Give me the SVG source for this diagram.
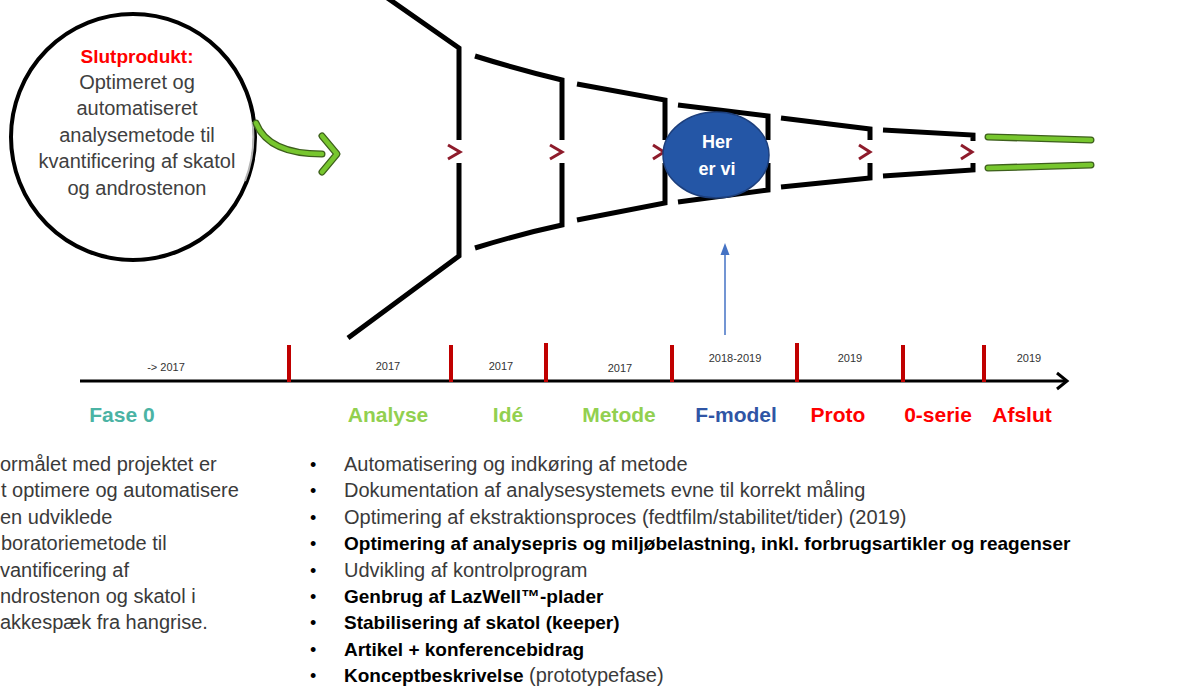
<svg xmlns="http://www.w3.org/2000/svg" width="1193" height="686" viewBox="0 0 1193 686">
<defs>
<style>
.fun{fill:none;stroke:#000;stroke-width:5;stroke-linecap:butt;stroke-linejoin:miter}
.chev{fill:none;stroke:#8e1b2b;stroke-width:3}
.tick{stroke:#c00000;stroke-width:4}
.yr{font-family:"Liberation Sans",Arial,sans-serif;font-size:11px;fill:#333;text-anchor:middle}
.ph{font-family:"Liberation Sans",Arial,sans-serif;font-size:21px;font-weight:bold;text-anchor:middle}
.ct{font-family:"Liberation Sans",Arial,sans-serif;font-size:20px;fill:#404040;text-anchor:middle}
.bt{font-family:"Liberation Sans",Arial,sans-serif;font-size:20px;fill:#3a3a3a}
.bb{font-family:"Liberation Sans",Arial,sans-serif;font-size:19px;fill:#000;font-weight:bold}
.gout{fill:none;stroke:#3d5f1c;stroke-width:7;stroke-linecap:round}
.gin{fill:none;stroke:#77c62e;stroke-width:4.5;stroke-linecap:round}
</style>
</defs>
<rect width="1193" height="686" fill="#fff"/>

<g id="slutprodukt">
<ellipse cx="133" cy="137" rx="122" ry="123" fill="#fff" stroke="#000" stroke-width="4"/>
<path d="M252.5 122 A120 121 0 0 1 245 181" fill="none" stroke="#b5b5b5" stroke-width="2"/>
<text x="137" y="63" class="ct" style="fill:#ff0000;font-weight:bold;font-size:19px">Slutprodukt:</text>
<text x="137" y="89" class="ct">Optimeret og</text>
<text x="137" y="115" class="ct">automatiseret</text>
<text x="137" y="142" class="ct">analysemetode til</text>
<text x="137" y="168" class="ct">kvantificering af skatol</text>
<text x="137" y="195" class="ct">og androstenon</text>
</g>

<g id="connectors">
<path class="gout" d="M256 123 Q268 154 322 154"/>
<path class="gout" d="M322 136 L337 154 L322 172" style="stroke-linejoin:round"/>
<path class="gin" d="M256 123 Q268 154 322 154"/>
<path class="gin" d="M322 136 L337 154 L322 172" style="stroke-linejoin:round"/>
<line x1="725" y1="335" x2="725" y2="254" stroke="#4472c4" stroke-width="1.5"/>
<path d="M725 243 L729.5 255 L720.5 255 Z" fill="#4472c4"/>
</g>

<g id="funnel">
<path class="fun" d="M376 -10 L459 48 L459 140"/>
<path class="fun" d="M459 163 L459 256 L348 338"/>
<path class="fun" d="M475 56 Q520 70 562 80 L562 140"/>
<path class="fun" d="M562 163 L562 225 Q520 234 475 248"/>
<path class="fun" d="M577 84 L665 100 L665 140"/>
<path class="fun" d="M665 163 L665 203 L577 220"/>
<path class="fun" d="M678 105 L768 116 L768 140"/>
<path class="fun" d="M768 163 L768 190 L678 202"/>
<path class="fun" d="M781 118 L870 129 L870 140"/>
<path class="fun" d="M870 163 L870 178 L781 187"/>
<path class="fun" d="M883 130 L973 135 L973 141"/>
<path class="fun" d="M973 163 L973 170 L883 176"/>
<path class="gout" d="M988 137 L1091 140"/>
<path class="gout" d="M988 168 L1091 165"/>
<path class="gin" d="M988 137 L1091 140"/>
<path class="gin" d="M988 168 L1091 165"/>
<polyline class="chev" points="448,145 460,152 448,159"/>
<polyline class="chev" points="550,145 562,152 550,159"/>
<polyline class="chev" points="653,145 664,152 653,159"/>
<polyline class="chev" points="859,145 870,152 859,159"/>
<polyline class="chev" points="961,145 972,152 961,159"/>
</g>

<g id="her-er-vi">
<ellipse cx="716" cy="155" rx="53" ry="43" fill="#2456a6" stroke="#1d3f7c" stroke-width="1.5"/>
<text x="717" y="148" text-anchor="middle" font-family="Liberation Sans, Arial, sans-serif" font-size="18" font-weight="bold" fill="#fff">Her</text>
<text x="717" y="175" text-anchor="middle" font-family="Liberation Sans, Arial, sans-serif" font-size="18" font-weight="bold" fill="#fff">er vi</text>
</g>

<g id="timeline">
<line x1="80" y1="381" x2="1066" y2="381" stroke="#000" stroke-width="3"/>
<polyline points="1057,373 1067,381 1057,389" fill="none" stroke="#000" stroke-width="3"/>
<line class="tick" x1="289" y1="345" x2="289" y2="382"/>
<line class="tick" x1="451" y1="345" x2="451" y2="382"/>
<line class="tick" x1="546" y1="343" x2="546" y2="382"/>
<line class="tick" x1="672" y1="345" x2="672" y2="382"/>
<line class="tick" x1="797" y1="343" x2="797" y2="382"/>
<line class="tick" x1="903" y1="345" x2="903" y2="382"/>
<line class="tick" x1="984" y1="345" x2="984" y2="382"/>
<text class="yr" x="166" y="371">-&gt; 2017</text>
<text class="yr" x="388" y="370">2017</text>
<text class="yr" x="501" y="370">2017</text>
<text class="yr" x="620" y="372">2017</text>
<text class="yr" x="735" y="362">2018-2019</text>
<text class="yr" x="850" y="362">2019</text>
<text class="yr" x="1029" y="362">2019</text>
</g>

<g id="phases">
<text class="ph" x="122" y="422" fill="#4bb3a4">Fase 0</text>
<text class="ph" x="388" y="422" fill="#92d050">Analyse</text>
<text class="ph" x="508" y="422" fill="#92d050">Idé</text>
<text class="ph" x="619" y="422" fill="#92d050">Metode</text>
<text class="ph" x="736" y="422" fill="#2f55a5">F-model</text>
<text class="ph" x="838" y="422" fill="#ff0000">Proto</text>
<text class="ph" x="938" y="422" fill="#ff0000">0-serie</text>
<text class="ph" x="1022" y="422" fill="#ff0000">Afslut</text>
</g>

<g id="formaal">
<text class="bt" x="0" y="471">ormålet med projektet er</text>
<text class="bt" x="1" y="497">t optimere og automatisere</text>
<text class="bt" x="0" y="524">en udviklede</text>
<text class="bt" x="1" y="550">boratoriemetode til</text>
<text class="bt" x="0" y="577">vantificering af</text>
<text class="bt" x="0" y="603">ndrostenon og skatol i</text>
<text class="bt" x="0" y="629">akkespæk fra hangrise.</text>
</g>

<g id="bullets">
<g font-family="Liberation Sans, Arial, sans-serif" font-size="18" fill="#000">
<text x="310" y="471">•</text><text x="310" y="497">•</text><text x="310" y="524">•</text>
<text x="310" y="550">•</text><text x="310" y="577">•</text><text x="310" y="603">•</text>
<text x="310" y="629">•</text><text x="310" y="656">•</text><text x="310" y="682">•</text>
</g>
<text class="bt" x="344" y="471">Automatisering og indkøring af metode</text>
<text class="bt" x="344" y="497">Dokumentation af analysesystemets evne til korrekt måling</text>
<text class="bt" x="344" y="524">Optimering af ekstraktionsproces (fedtfilm/stabilitet/tider) (2019)</text>
<text class="bb" x="344" y="550">Optimering af analysepris og miljøbelastning, inkl. forbrugsartikler og reagenser</text>
<text class="bt" x="344" y="577">Udvikling af kontrolprogram</text>
<text class="bb" x="344" y="603">Genbrug af LazWell™-plader</text>
<text class="bb" x="344" y="629">Stabilisering af skatol (keeper)</text>
<text class="bb" x="344" y="656">Artikel + konferencebidrag</text>
<text x="344" y="682" font-family="Liberation Sans, Arial, sans-serif"><tspan class="bb">Konceptbeskrivelse</tspan><tspan class="bt"> (prototypefase)</tspan></text>
</g>
</svg>
